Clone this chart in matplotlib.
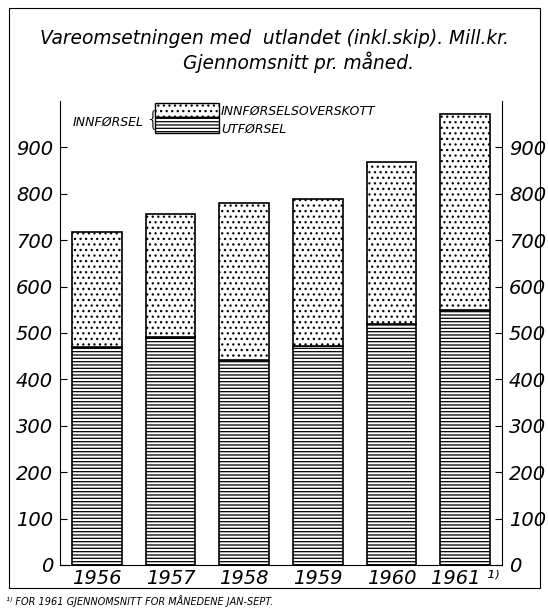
import matplotlib.pyplot as plt
from matplotlib.patches import Rectangle

# data (Mill. kr, average per month)
years = ['1956', '1957', '1958', '1959', '1960', '1961 \u00b9\u207e']
innforsel = [718, 756, 780, 789, 869, 972]   # total imports (bar top)
utforsel = [470, 491, 442, 472, 519, 550]    # exports (lower part)
overskott = [i - u for i, u in zip(innforsel, utforsel)]
yticks = [0, 100, 200, 300, 400, 500, 600, 700, 800, 900]

plt.rcParams['hatch.linewidth'] = 0.9
plt.rcParams['font.family'] = ['DejaVu Sans']

fig = plt.figure(figsize=(5.48, 6.12), dpi=100)
ax = fig.add_axes([60/548, 47/612, 442/548, 464/612])

x = range(len(years))
w = 0.67
ax.bar(x, utforsel, width=w, color='white', edgecolor='black',
       hatch='-----', linewidth=1.2)
ax.bar(x, overskott, width=w, bottom=utforsel, color='white',
       edgecolor='black', hatch='...', linewidth=1.2)

ax.set_xlim(-0.5, 5.5)
ax.set_ylim(0, 1000)
ax.spines['top'].set_visible(False)
for s in ['left', 'right', 'bottom']:
    ax.spines[s].set_linewidth(0.8)

ax.set_yticks(yticks)
ax.set_yticklabels([str(t) for t in yticks], fontsize=14, style='italic')
ax.tick_params(axis='y', which='both', direction='in', length=5, width=0.8,
               left=True, right=True, labelleft=True, labelright=True, pad=5)
ax.set_xticks(list(x))
ax.set_xticklabels(years, fontsize=14, style='italic')
ax.tick_params(axis='x', length=0, pad=3)

# title
fig.text(0.5, 1 - 38/612, 'Vareomsetningen med  utlandet (inkl.skip). Mill.kr.',
         ha='center', va='center', fontsize=13.4, style='italic')
fig.text(0.545, 1 - 62/612, 'Gjennomsnitt pr. m\u00e5ned.',
         ha='center', va='center', fontsize=13.4, style='italic')

# legend drawn by hand (axes coords)
def ax_xy(px, py):
    return (px - 60) / 442, (565 - py) / 464

x0, y0 = ax_xy(155, 117)
x1, y1 = ax_xy(219, 103)
_, y2 = ax_xy(0, 133)
ax.add_patch(Rectangle((x0, y0), x1 - x0, y1 - y0, transform=ax.transAxes,
                       facecolor='white', edgecolor='black', hatch='...',
                       linewidth=1.0, clip_on=False))
ax.add_patch(Rectangle((x0, y2), x1 - x0, y0 - y2, transform=ax.transAxes,
                       facecolor='white', edgecolor='black', hatch='-----',
                       linewidth=1.0, clip_on=False))
bx, by = ax_xy(152, 119)
ax.text(bx, by, '{', transform=ax.transAxes, ha='center', va='center',
        fontsize=16, fontweight='light')
tx, ty = ax_xy(144, 122)
ax.text(tx, ty, 'INNF\u00d8RSEL', transform=ax.transAxes, ha='right', va='center',
        fontsize=9, style='italic')
tx, ty = ax_xy(221, 111)
ax.text(tx, ty, 'INNF\u00d8RSELSOVERSKOTT', transform=ax.transAxes, ha='left',
        va='center', fontsize=9, style='italic')
tx, ty = ax_xy(221, 129)
ax.text(tx, ty, 'UTF\u00d8RSEL', transform=ax.transAxes, ha='left',
        va='center', fontsize=9, style='italic')

# outer frame
fig.add_artist(Rectangle((9/548, 24/612), 531/548, 580/612, transform=fig.transFigure,
                         fill=False, edgecolor='black', linewidth=0.8))

# footnote
fig.text(6/548, 1 - 601/612, '\u00b9\u207e FOR 1961 GJENNOMSNITT FOR M\u00c5NEDENE JAN-SEPT.',
         ha='left', va='center', fontsize=7, style='italic')

fig.savefig('out.png', dpi=100)
